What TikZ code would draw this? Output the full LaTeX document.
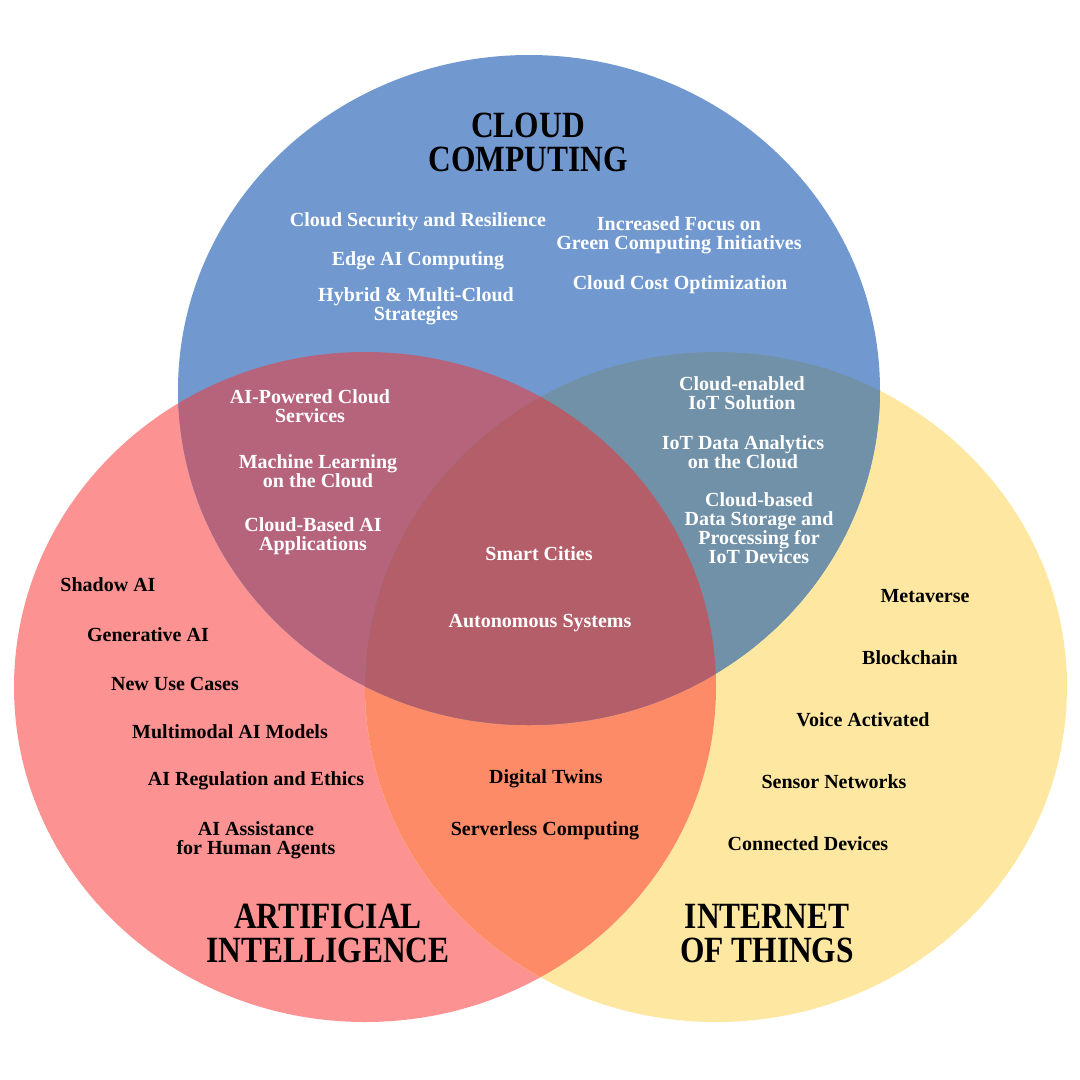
\documentclass[tikz,border=0pt]{standalone}
\usepackage{fontspec}
\setmainfont{Liberation Serif}
\newfontfamily\headfont[FakeStretch=0.85]{Liberation Serif}
\usepackage{tikz}

\definecolor{cloudblue}{HTML}{7199CF}
\definecolor{aired}{HTML}{FC9392}
\definecolor{iotyellow}{HTML}{FEE8A1}
\definecolor{aicloud}{HTML}{B5647C}
\definecolor{cloudiot}{HTML}{7191A8}
\definecolor{aiiot}{HTML}{FE8B68}
\definecolor{allthree}{HTML}{B35E68}

\tikzset{
  item/.style={font=\bfseries\fontsize{20}{19}\selectfont, align=center, inner sep=0pt, text=black},
  witem/.style={item, text=white},
  head/.style={font=\headfont\bfseries\fontsize{37}{34}\selectfont, align=center, inner sep=0pt},
}

\def\cloudset{(529,390) ellipse [x radius=351pt, y radius=335pt]}
\def\aiset{(365,687) ellipse [x radius=351pt, y radius=335pt]}
\def\iotset{(716,687) ellipse [x radius=351pt, y radius=335pt]}

\begin{document}
\begin{tikzpicture}[x=1pt,y=-1pt]
\useasboundingbox (0,0) rectangle (1080,1080);

% Circles
\fill[aired] \aiset;
\fill[iotyellow] \iotset;
\fill[cloudblue] \cloudset;
\begin{scope}
\clip \aiset;
\fill[aiiot] \iotset;
\fill[aicloud] \cloudset;
\end{scope}
\begin{scope}
\clip \iotset;
\fill[cloudiot] \cloudset;
\end{scope}
\begin{scope}
\clip \aiset;
\clip \iotset;
\fill[allthree] \cloudset;
\end{scope}

% Cloud computing
\node[head] (cloudhead) at (528,142.5) {CLOUD\\COMPUTING};
\node[witem] (security) at (418,222) {Cloud Security and Resilience};
\node[witem] (edgeai) at (418,261) {Edge AI Computing};
\node[witem] (hybrid) at (416,306) {Hybrid \& Multi-Cloud\\Strategies};
\node[witem] (green) at (679,235) {Increased Focus on\\Green Computing Initiatives};
\node[witem] (cost) at (680,285) {Cloud Cost Optimization};

% AI and cloud
\node[witem] (aiservices) at (310,406) {AI-Powered Cloud\\Services};
\node[witem] (mlcloud) at (318,471) {Machine Learning\\on the Cloud};
\node[witem] (aiapps) at (313,536) {Cloud-Based AI\\Applications};

% Cloud and IoT
\node[witem] (iotsolution) at (742,393) {Cloud-enabled\\IoT Solution};
\node[witem] (iotanalytics) at (743,452) {IoT Data Analytics\\on the Cloud};
\node[witem] (iotstorage) at (759,528) {Cloud-based\\Data Storage and\\Processing for\\IoT Devices};

% All three
\node[witem] (smartcities) at (539,554) {Smart Cities};
\node[witem] (autonomous) at (540,623) {Autonomous Systems};

% Artificial intelligence
\node[item] (shadowai) at (108,585) {Shadow AI};
\node[item] (genai) at (148,635) {Generative AI};
\node[item] (usecases) at (175,684) {New Use Cases};
\node[item] (multimodal) at (230,732) {Multimodal AI Models};
\node[item] (ethics) at (256,781) {AI Regulation and Ethics};
\node[item] (assistance) at (256,840) {AI Assistance\\for Human Agents};
\node[head] (aihead) at (328,933.5) {ARTIFICIAL\\INTELLIGENCE};

% AI and IoT
\node[item] (twins) at (546,779) {Digital Twins};
\node[item] (serverless) at (545,831) {Serverless Computing};

% Internet of things
\node[item] (metaverse) at (925,596) {Metaverse};
\node[item] (blockchain) at (910,658) {Blockchain};
\node[item] (voice) at (863,720) {Voice Activated};
\node[item] (sensors) at (834,782) {Sensor Networks};
\node[item] (connected) at (808,844) {Connected Devices};
\node[head] (iothead) at (767,933.5) {INTERNET\\OF THINGS};
\end{tikzpicture}
\end{document}
